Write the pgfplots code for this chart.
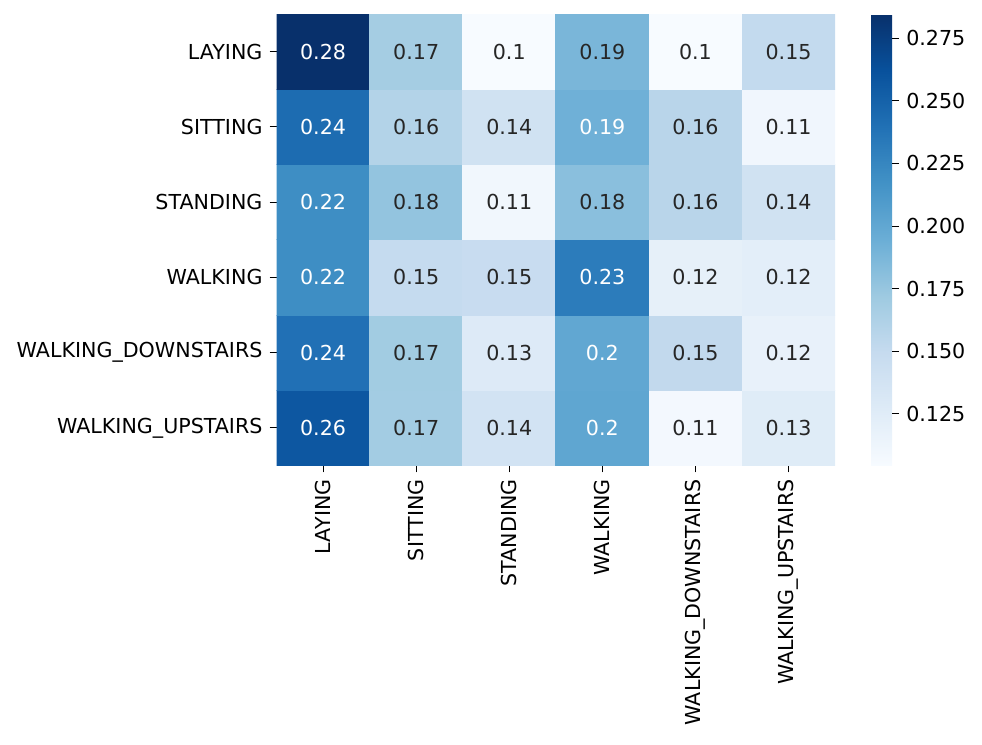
\documentclass[border=0pt]{standalone}
\usepackage{fontspec}
\setmainfont{DejaVu Sans}
\usepackage{pgfplots}
\usepackage{pgfplotstable}
\pgfplotsset{compat=1.18}
\pgfkeys{/pgf/number format/assume math mode=true}

% x = predicted column, y = row (5 = LAYING at top), v = value, w = white text
\pgfplotstableread{
x y v w
0 0 0.258 1
1 0 0.169 0
2 0 0.138 0
3 0 0.201 1
4 0 0.108 0
5 0 0.126 0
0 1 0.240 1
1 1 0.170 0
2 1 0.128 0
3 1 0.200 1
4 1 0.152 0
5 1 0.118 0
0 2 0.220 1
1 2 0.150 0
2 2 0.148 0
3 2 0.232 1
4 2 0.120 0
5 2 0.122 0
0 3 0.220 1
1 3 0.177 0
2 3 0.110 0
3 3 0.181 0
4 3 0.157 0
5 3 0.140 0
0 4 0.243 1
1 4 0.160 0
2 4 0.140 0
3 4 0.193 1
4 4 0.157 0
5 4 0.111 0
0 5 0.2846 1
1 5 0.168 0
2 5 0.1044 0
3 5 0.188 0
4 5 0.1046 0
5 5 0.151 0
}\cm

\pgfplotsset{
  cellvalues/.style={mark=none, draw=none, point meta=explicit,
    nodes near coords={\pgfmathprintnumber[fixed, precision=2]{\pgfplotspointmeta}},
    nodes near coords style={anchor=center, text=#1, font=\fontsize{10.3}{12}\selectfont}},
}

\begin{document}
\begin{tikzpicture}[font=\fontsize{10.3}{12}\selectfont]
\begin{axis}[
  scale only axis,
  width=279pt, height=225.5pt,
  xmin=-0.5, xmax=5.5, ymin=-0.5, ymax=5.5,
  enlargelimits=false,
  axis line style={draw=none},
  tick label style={font=\fontsize{10.3}{12}\selectfont},
  xtick={0,...,5}, ytick={0,...,5},
  xticklabels={LAYING,SITTING,STANDING,WALKING,WALKING\_DOWNSTAIRS,WALKING\_UPSTAIRS},
  yticklabels={WALKING\_UPSTAIRS,WALKING\_DOWNSTAIRS,WALKING,STANDING,SITTING,LAYING},
  xticklabel style={rotate=90, anchor=east},
  xtick pos=bottom, ytick pos=left,
  tick align=outside, major tick length=3.5pt,
  tick style={black, line width=0.4pt},
  colormap={blues}{rgb255=(247,251,255) rgb255=(222,235,247) rgb255=(198,219,239)
    rgb255=(158,202,225) rgb255=(107,174,214) rgb255=(66,146,198)
    rgb255=(33,113,181) rgb255=(8,81,156) rgb255=(8,48,107)},
  point meta min=0.1044, point meta max=0.2846,
  colorbar,
  colorbar style={
    at={(parent axis.north east)}, anchor=north west, xshift=9.5pt,
    scale only axis, width=10.5pt, height=225.5pt,
    axis line style={draw=none},
    tick label style={font=\fontsize{10.3}{12}\selectfont},
    ytick={0.125,0.15,0.175,0.2,0.225,0.25,0.275},
    yticklabel style={/pgf/number format/.cd, fixed, fixed zerofill, precision=3},
    ytick pos=right, yticklabel pos=right,
    tick align=outside, major tick length=3.5pt,
    ytick style={black, line width=0.4pt},
  },
]
\addplot[matrix plot*, mesh/cols=6, point meta=explicit] table[x=x, y=y, meta=v]{\cm};
\addplot[cellvalues=white, restrict expr to domain={\thisrow{w}}{0.5:1.5}]
  table[x=x, y=y, meta=v]{\cm};
\addplot[cellvalues=black!85, restrict expr to domain={\thisrow{w}}{-0.5:0.5}]
  table[x=x, y=y, meta=v]{\cm};
\end{axis}
\path (current bounding box.south west) ++(-5pt,-6.5pt);
\path (current bounding box.north east) ++(5pt,7pt);
\end{tikzpicture}
\end{document}
